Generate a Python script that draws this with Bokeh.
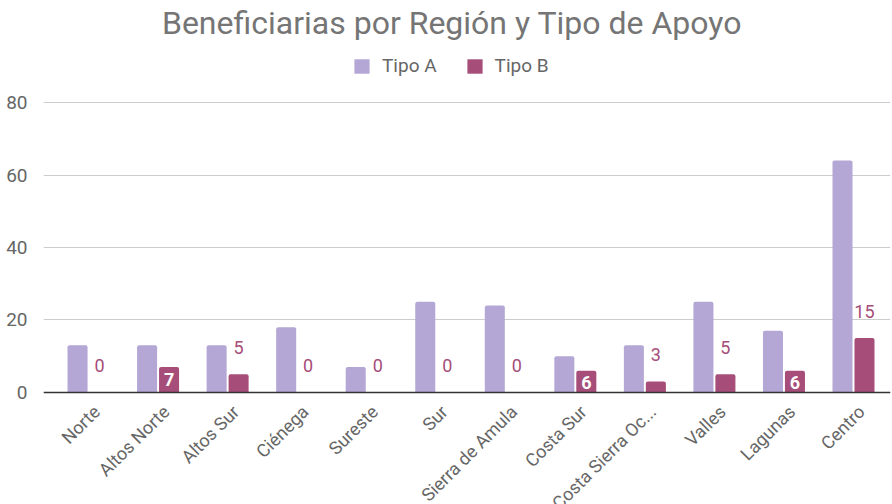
import math
from bokeh.plotting import figure
from bokeh.models import (ColumnDataSource, Range1d, FixedTicker, Span, Label,
                          Legend, LegendItem)
from bokeh.core.properties import value
from bokeh.transform import dodge
from bokeh.embed import file_html
from bokeh.resources import INLINE

# ---------------- data ----------------
regions = ["Norte", "Altos Norte", "Altos Sur", "Ciénega", "Sureste", "Sur",
           "Sierra de Amula", "Costa Sur", "Costa Sierra Oc...", "Valles",
           "Lagunas", "Centro"]
tipo_a = [13, 13, 13, 18, 7, 25, 24, 10, 13, 25, 17, 64]
tipo_b = [0, 7, 5, 0, 0, 0, 0, 6, 3, 5, 6, 15]
y_ticks = [0, 20, 40, 60, 80]
series_names = ["Tipo A", "Tipo B"]
title_text = "Beneficiarias por Región y Tipo de Apoyo"

# ---------------- style ----------------
COL_A = "#b4a7d6"
COL_B = "#a64d79"
TXT = "#666666"
FONT = "Roboto"
# placement of the Tipo B value labels (True: inside the bar, white)
b_label_inside = [False, True, False, False, False, False, False, True,
                  False, False, True, False]

idx = list(range(len(regions)))
OFF = 0.158
BW = 0.288

p = figure(width=892, height=504, output_backend="svg", toolbar_location=None,
           x_range=Range1d(-0.6475, 11.532), y_range=Range1d(-30.9, 108.14),
           min_border_left=43, min_border_right=2, min_border_top=0,
           min_border_bottom=0, outline_line_color=None,
           background_fill_color="white", border_fill_color="white")

src = ColumnDataSource(dict(x=idx, a=tipo_a, b=tipo_b, region=regions,
                            zero=[0] * len(regions)))

ra = p.vbar(x=dodge("x", -OFF), top="a", bottom=0, width=BW, source=src,
            fill_color=COL_A, line_color=None, border_radius=(2, 2, 0, 0))
rb = p.vbar(x=dodge("x", OFF), top="b", bottom=0, width=BW, source=src,
            fill_color=COL_B, line_color=None, border_radius=(2, 2, 0, 0))

# value labels for Tipo B
out_i = [i for i in idx if not b_label_inside[i]]
in_i = [i for i in idx if b_label_inside[i]]
src_out = ColumnDataSource(dict(x=[i + OFF for i in out_i],
                                y=[tipo_b[i] for i in out_i],
                                t=[str(tipo_b[i]) for i in out_i]))
src_in = ColumnDataSource(dict(x=[i + OFF for i in in_i],
                               y=[tipo_b[i] for i in in_i],
                               t=[str(tipo_b[i]) for i in in_i]))
p.text(x="x", y="y", text="t", source=src_out, text_align="center",
       text_baseline="middle", y_offset=-27, text_color=COL_B,
       text_font=value(FONT), text_font_size="18px")
p.text(x="x", y="y", text="t", source=src_in, text_align="center",
       text_baseline="middle", y_offset=12, text_color="white",
       text_font=value(FONT), text_font_size="18px", text_font_style="bold")

# axes / grid
p.xaxis.visible = False
p.xgrid.visible = False
p.yaxis.ticker = FixedTicker(ticks=y_ticks)
p.ygrid.ticker = FixedTicker(ticks=y_ticks)
p.ygrid.grid_line_color = "#cccccc"
p.ygrid.grid_line_width = 1
p.yaxis.axis_line_color = None
p.yaxis.major_tick_line_color = None
p.yaxis.minor_tick_line_color = None
p.yaxis.major_label_standoff = 10
p.yaxis.major_label_text_font = FONT
p.yaxis.major_label_text_font_size = "19px"
p.yaxis.major_label_text_color = TXT

p.add_layout(Span(location=0, dimension="width", line_color="#333333",
                  line_width=1.5))

# category labels (rotated, anchored under each group)
p.text(x="x", y="zero", text="region", source=src, x_offset=8, y_offset=16,
       angle=math.pi / 4, text_align="right", text_baseline="middle",
       text_font=value(FONT), text_font_size="18px", text_color=TXT)

# title
p.add_layout(Label(x=408.5, y=482, x_units="screen", y_units="screen",
                   text=title_text, text_align="center",
                   text_baseline="alphabetic", text_font=FONT,
                   text_font_size="32px", text_color="#757575"))

# legend
legend = Legend(items=[LegendItem(label=series_names[0], renderers=[ra]),
                       LegendItem(label=series_names[1], renderers=[rb])],
                location=(309, 427), orientation="horizontal",
                glyph_width=19, glyph_height=18, label_standoff=11,
                spacing=28, padding=0, margin=0, border_line_color=None,
                background_fill_alpha=0, label_text_font=FONT,
                label_text_font_size="19px", label_text_color=TXT,
                label_height=18)
p.add_layout(legend)

open("out.html", "w").write(file_html(p, INLINE))
